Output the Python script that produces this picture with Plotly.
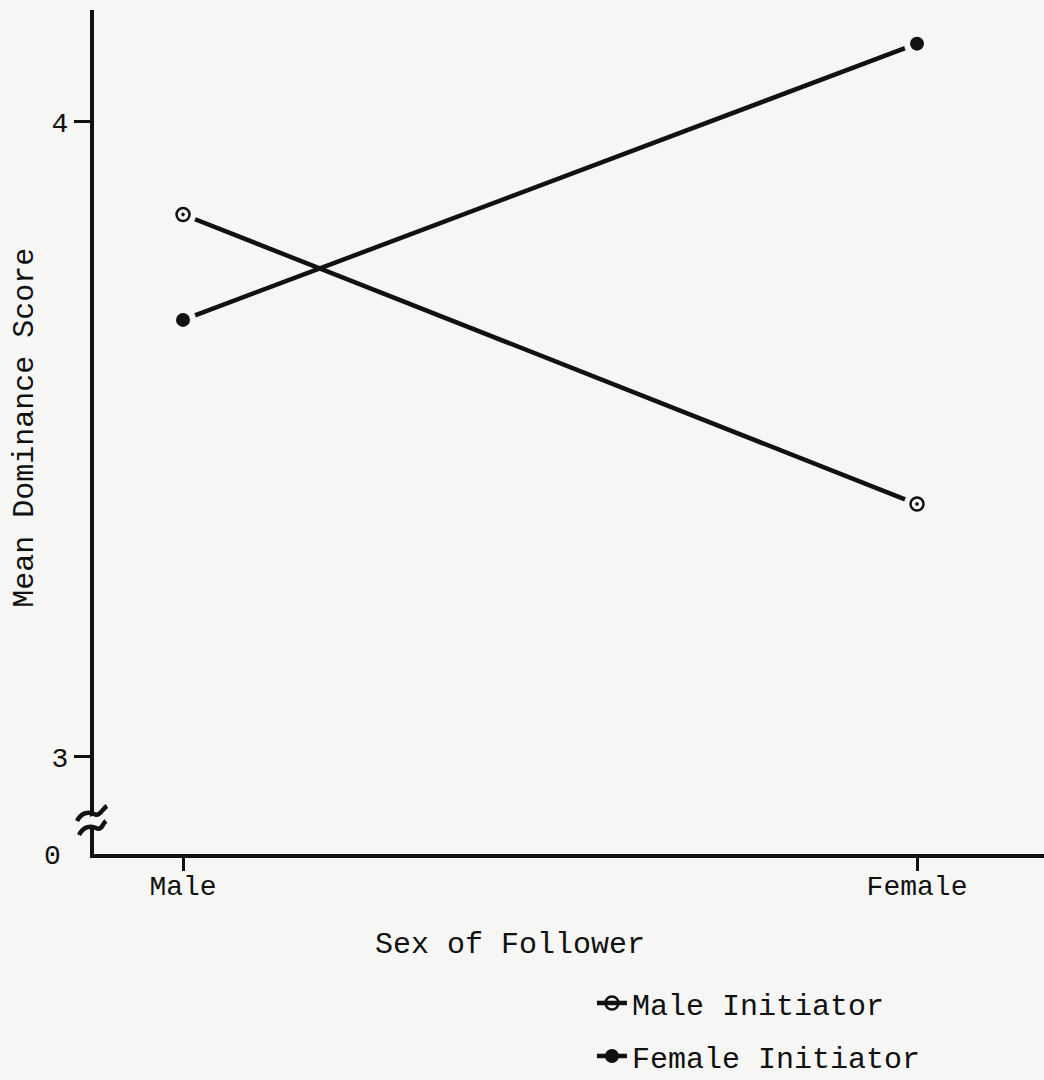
import plotly.graph_objects as go

categories = ["Male", "Female"]
male_initiator = [3.854, 3.398]
female_initiator = [3.688, 4.123]
series_names = ["Male Initiator", "Female Initiator"]
y_tick_vals = [3, 4]
y_tick_text = ["3", "4"]

FONT = "Liberation Mono, DejaVu Sans Mono, monospace"
INK = "#111111"
BG = "#f6f6f4"
YMIN, YMAX = 2.847, 4.176

fig = go.Figure()

specs = [
    (male_initiator, series_names[0], dict(symbol="circle-open-dot", size=13, color=INK, line=dict(width=2.5, color=INK))),
    (female_initiator, series_names[1], dict(symbol="circle", size=14, color=INK, line=dict(width=0))),
]

for i, (vals, name, mk) in enumerate(specs):
    fig.add_trace(go.Scatter(
        x=categories, y=vals, mode="lines+markers", name=name,
        line=dict(color=INK, width=4.5), marker=mk, legendgroup=f"g{i}",
        showlegend=True))
for i, (vals, name, mk) in enumerate(specs):
    fig.add_trace(go.Scatter(
        x=categories, y=vals, mode="markers", showlegend=False, hoverinfo="skip",
        marker=dict(symbol="circle", size=26, color=BG, line=dict(width=0))))
    fig.add_trace(go.Scatter(
        x=categories, y=vals, mode="markers", showlegend=False, name=name,
        marker=mk))

fig.update_layout(
    width=1044, height=1080,
    margin=dict(l=94, r=0, t=10, b=226, autoexpand=False),
    paper_bgcolor=BG, plot_bgcolor=BG,
    font=dict(family=FONT, size=30, color=INK),
    showlegend=True,
    legend=dict(x=0.567, y=0.0954, xref="container", yref="container",
                xanchor="left", yanchor="top",
                traceorder="grouped", tracegroupgap=11,
                bgcolor="rgba(0,0,0,0)", font=dict(size=30, family=FONT, color=INK)),
    xaxis=dict(type="category", range=[-0.1213, 1.173], showgrid=False, zeroline=False,
               showline=True, linecolor=INK, linewidth=4,
               ticks="outside", ticklen=13, tickwidth=3, tickcolor=INK,
               ticklabelstandoff=-10,
               tickfont=dict(size=28, family=FONT, color=INK)),
    yaxis=dict(range=[YMIN, YMAX], showgrid=False, zeroline=False,
               showline=True, linecolor=INK, linewidth=4,
               tickvals=y_tick_vals, ticktext=y_tick_text,
               ticks="outside", ticklen=16, tickwidth=3, tickcolor=INK,
               tickfont=dict(size=28, family=FONT, color=INK)),
)

# axis break on the y axis
fig.add_shape(type="path", xref="paper", yref="y", xsizemode="pixel", ysizemode="pixel",
              xanchor=0, yanchor=YMIN,
              path="M -8 24 L 8 32 L 8 43 L -8 35 Z",
              fillcolor=BG, line=dict(width=0), layer="above")
fig.add_shape(type="path", xref="paper", yref="y", xsizemode="pixel", ysizemode="pixel",
              xanchor=0, yanchor=YMIN,
              path="M -17 33 C -13 41, -6 43, 0 40 S 8 45, 13 48",
              line=dict(color=INK, width=4.5), layer="above")
fig.add_shape(type="path", xref="paper", yref="y", xsizemode="pixel", ysizemode="pixel",
              xanchor=0, yanchor=YMIN,
              path="M -15 19 C -11 27, -4 29, 2 26 S 8 30, 12 33",
              line=dict(color=INK, width=4.5), layer="above")

# "0" origin label
fig.add_annotation(x=-0.0326, y=YMIN, xref="paper", yref="y", text="0", showarrow=False,
                   xanchor="right", yanchor="middle", yshift=-2,
                   font=dict(size=28, family=FONT, color=INK))
# axis titles
fig.add_annotation(x=0.4379, y=-0.1078, xref="paper", yref="paper", text="Sex of Follower",
                   showarrow=False, xanchor="center", yanchor="middle",
                   font=dict(size=30, family=FONT, color=INK))
fig.add_annotation(x=-0.0726, y=0.505, xref="paper", yref="paper", text="Mean Dominance Score",
                   showarrow=False, textangle=-90, xanchor="center", yanchor="middle",
                   font=dict(size=30, family=FONT, color=INK))

fig.write_html("out.html", config={"displayModeBar": False},
               post_script="document.body.style.margin='0';document.body.style.background='%s';" % BG)
